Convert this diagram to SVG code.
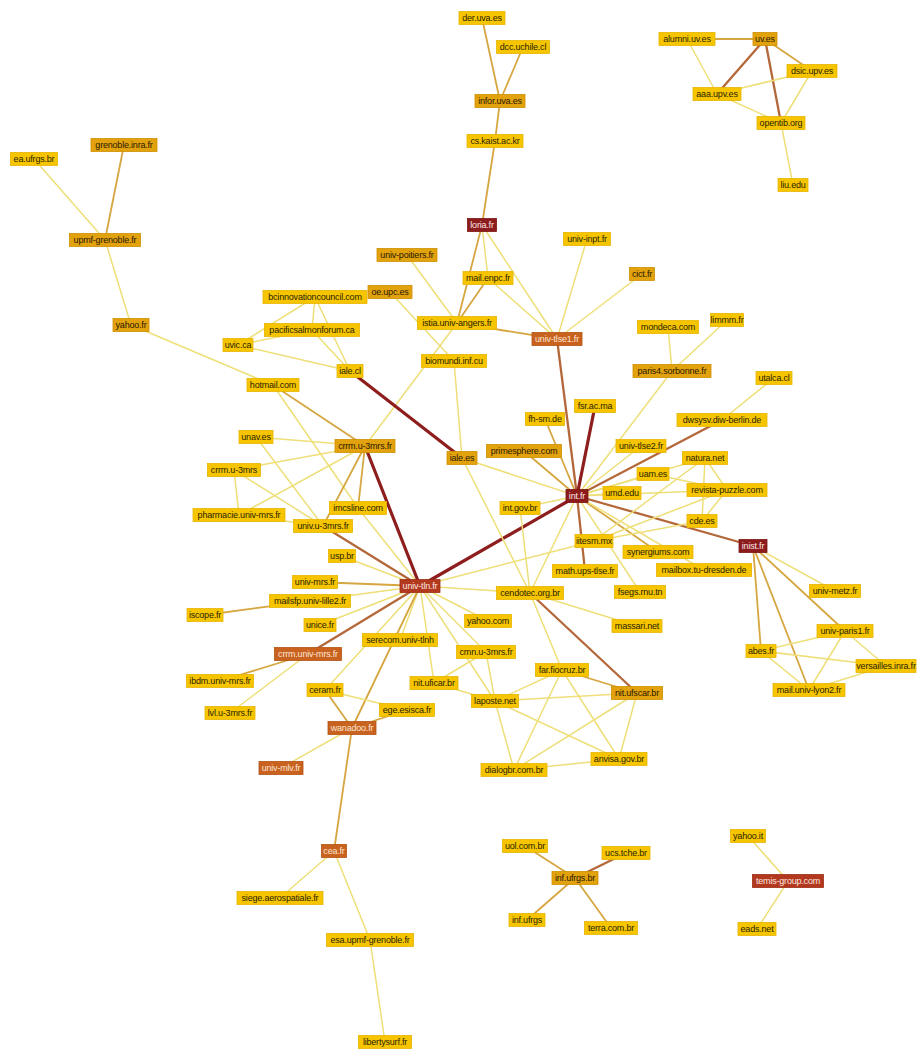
<svg xmlns="http://www.w3.org/2000/svg" width="924" height="1052" viewBox="0 0 924 1052">
<style>
.bg{fill:#fff}
.e line{stroke-linecap:round;fill:none}
.Y{stroke:#eedf78;stroke-width:1.5}
.O{stroke:#d6a640;stroke-width:1.8}
.B{stroke:#b4683a;stroke-width:2.3}
.R{stroke:#8e1e1e;stroke-width:3.2}
.node rect{stroke-width:0.8}
.node text{font-family:"Liberation Sans",Arial,sans-serif;font-size:9px;text-anchor:middle;letter-spacing:-0.2px}
.y rect{fill:#f6c500;stroke:#e6b400}
.y text{fill:#2a1e00}
.o rect{fill:#e2a20e;stroke:#cf9000}
.o text{fill:#2a1800}
.b rect{fill:#c8621e;stroke:#b35414}
.b text{fill:#fbe6d6}
.r rect{fill:#8c1c1c;stroke:#7a1414}
.r text{fill:#fbe6e6}
.t rect{fill:#b2391e;stroke:#9c2e16}
.t text{fill:#fbe6e0}
</style>
<rect class="bg" x="0" y="0" width="924" height="1052"/>
<g id="connectors" class="e">
<line class="Y" x1="34" y1="159" x2="105" y2="240"/>
<line class="O" x1="124" y1="145" x2="105" y2="240"/>
<line class="Y" x1="105" y1="240" x2="131" y2="325"/>
<line class="Y" x1="131" y1="325" x2="273" y2="385"/>
<line class="O" x1="482" y1="18" x2="500" y2="101"/>
<line class="O" x1="523" y1="47" x2="500" y2="101"/>
<line class="O" x1="500" y1="101" x2="495" y2="141"/>
<line class="O" x1="495" y1="141" x2="482" y2="225"/>
<line class="O" x1="687" y1="39" x2="765" y2="39"/>
<line class="Y" x1="687" y1="39" x2="717" y2="94"/>
<line class="B" x1="765" y1="39" x2="717" y2="94"/>
<line class="B" x1="765" y1="39" x2="781" y2="123"/>
<line class="O" x1="765" y1="39" x2="812" y2="71"/>
<line class="Y" x1="717" y1="94" x2="812" y2="71"/>
<line class="Y" x1="717" y1="94" x2="781" y2="123"/>
<line class="Y" x1="812" y1="71" x2="781" y2="123"/>
<line class="Y" x1="781" y1="123" x2="793" y2="185"/>
<line class="Y" x1="482" y1="225" x2="488" y2="278"/>
<line class="O" x1="482" y1="225" x2="457" y2="323"/>
<line class="Y" x1="482" y1="225" x2="557" y2="339"/>
<line class="O" x1="488" y1="278" x2="457" y2="323"/>
<line class="Y" x1="488" y1="278" x2="557" y2="339"/>
<line class="Y" x1="407" y1="255" x2="457" y2="323"/>
<line class="O" x1="457" y1="323" x2="557" y2="339"/>
<line class="Y" x1="457" y1="323" x2="365" y2="446"/>
<line class="Y" x1="390" y1="292" x2="454" y2="361"/>
<line class="Y" x1="587" y1="239" x2="557" y2="339"/>
<line class="Y" x1="642" y1="274" x2="557" y2="339"/>
<line class="B" x1="557" y1="339" x2="577" y2="496"/>
<line class="Y" x1="315" y1="297" x2="238" y2="345"/>
<line class="Y" x1="315" y1="297" x2="312" y2="330"/>
<line class="Y" x1="315" y1="297" x2="350" y2="371"/>
<line class="Y" x1="312" y1="330" x2="238" y2="345"/>
<line class="Y" x1="312" y1="330" x2="350" y2="371"/>
<line class="Y" x1="238" y1="345" x2="350" y2="371"/>
<line class="R" x1="350" y1="371" x2="462" y2="458"/>
<line class="Y" x1="454" y1="361" x2="462" y2="458"/>
<line class="Y" x1="668" y1="327" x2="672" y2="371"/>
<line class="Y" x1="727" y1="320" x2="672" y2="371"/>
<line class="Y" x1="672" y1="371" x2="577" y2="496"/>
<line class="Y" x1="774" y1="378" x2="722" y2="420"/>
<line class="B" x1="722" y1="420" x2="577" y2="496"/>
<line class="R" x1="595" y1="406" x2="577" y2="496"/>
<line class="O" x1="545" y1="419" x2="577" y2="496"/>
<line class="O" x1="524" y1="451" x2="577" y2="496"/>
<line class="Y" x1="462" y1="458" x2="577" y2="496"/>
<line class="Y" x1="641" y1="446" x2="577" y2="496"/>
<line class="Y" x1="653" y1="474" x2="577" y2="496"/>
<line class="Y" x1="622" y1="493" x2="577" y2="496"/>
<line class="Y" x1="705" y1="458" x2="577" y2="496"/>
<line class="Y" x1="520" y1="508" x2="577" y2="496"/>
<line class="R" x1="577" y1="496" x2="420" y2="586"/>
<line class="B" x1="577" y1="496" x2="585" y2="571"/>
<line class="Y" x1="577" y1="496" x2="530" y2="593"/>
<line class="Y" x1="577" y1="496" x2="640" y2="592"/>
<line class="O" x1="577" y1="496" x2="658" y2="552"/>
<line class="Y" x1="577" y1="496" x2="704" y2="570"/>
<line class="B" x1="577" y1="496" x2="753" y2="546"/>
<line class="Y" x1="577" y1="496" x2="727" y2="490"/>
<line class="Y" x1="705" y1="458" x2="727" y2="490"/>
<line class="Y" x1="705" y1="458" x2="702" y2="521"/>
<line class="Y" x1="727" y1="490" x2="702" y2="521"/>
<line class="Y" x1="653" y1="474" x2="727" y2="490"/>
<line class="Y" x1="594" y1="541" x2="705" y2="458"/>
<line class="Y" x1="594" y1="541" x2="702" y2="521"/>
<line class="Y" x1="594" y1="541" x2="727" y2="490"/>
<line class="Y" x1="420" y1="586" x2="594" y2="541"/>
<line class="Y" x1="753" y1="546" x2="835" y2="591"/>
<line class="O" x1="753" y1="546" x2="845" y2="631"/>
<line class="O" x1="753" y1="546" x2="761" y2="651"/>
<line class="O" x1="753" y1="546" x2="809" y2="690"/>
<line class="Y" x1="761" y1="651" x2="845" y2="631"/>
<line class="Y" x1="761" y1="651" x2="886" y2="666"/>
<line class="Y" x1="761" y1="651" x2="809" y2="690"/>
<line class="Y" x1="845" y1="631" x2="809" y2="690"/>
<line class="Y" x1="845" y1="631" x2="886" y2="666"/>
<line class="Y" x1="886" y1="666" x2="809" y2="690"/>
<line class="O" x1="273" y1="385" x2="365" y2="446"/>
<line class="Y" x1="273" y1="385" x2="358" y2="508"/>
<line class="Y" x1="256" y1="437" x2="365" y2="446"/>
<line class="Y" x1="256" y1="437" x2="323" y2="526"/>
<line class="Y" x1="234" y1="470" x2="365" y2="446"/>
<line class="Y" x1="234" y1="470" x2="239" y2="515"/>
<line class="Y" x1="234" y1="470" x2="323" y2="526"/>
<line class="Y" x1="239" y1="515" x2="365" y2="446"/>
<line class="Y" x1="239" y1="515" x2="323" y2="526"/>
<line class="O" x1="365" y1="446" x2="323" y2="526"/>
<line class="O" x1="365" y1="446" x2="358" y2="508"/>
<line class="R" x1="365" y1="446" x2="420" y2="586"/>
<line class="B" x1="323" y1="526" x2="420" y2="586"/>
<line class="Y" x1="358" y1="508" x2="420" y2="586"/>
<line class="Y" x1="342" y1="556" x2="420" y2="586"/>
<line class="O" x1="315" y1="582" x2="420" y2="586"/>
<line class="Y" x1="310" y1="601" x2="420" y2="586"/>
<line class="O" x1="205" y1="615" x2="310" y2="601"/>
<line class="Y" x1="320" y1="625" x2="420" y2="586"/>
<line class="B" x1="308" y1="654" x2="420" y2="586"/>
<line class="O" x1="308" y1="654" x2="220" y2="681"/>
<line class="Y" x1="308" y1="654" x2="230" y2="713"/>
<line class="Y" x1="400" y1="640" x2="420" y2="586"/>
<line class="Y" x1="420" y1="586" x2="325" y2="690"/>
<line class="O" x1="420" y1="586" x2="352" y2="728"/>
<line class="Y" x1="420" y1="586" x2="434" y2="683"/>
<line class="Y" x1="420" y1="586" x2="495" y2="701"/>
<line class="Y" x1="420" y1="586" x2="486" y2="652"/>
<line class="Y" x1="420" y1="586" x2="488" y2="621"/>
<line class="Y" x1="420" y1="586" x2="530" y2="593"/>
<line class="O" x1="325" y1="690" x2="352" y2="728"/>
<line class="Y" x1="325" y1="690" x2="407" y2="710"/>
<line class="O" x1="407" y1="710" x2="352" y2="728"/>
<line class="Y" x1="352" y1="728" x2="281" y2="768"/>
<line class="O" x1="352" y1="728" x2="334" y2="851"/>
<line class="Y" x1="434" y1="683" x2="486" y2="652"/>
<line class="Y" x1="434" y1="683" x2="495" y2="701"/>
<line class="Y" x1="486" y1="652" x2="495" y2="701"/>
<line class="Y" x1="462" y1="458" x2="530" y2="593"/>
<line class="Y" x1="520" y1="508" x2="530" y2="593"/>
<line class="Y" x1="530" y1="593" x2="637" y2="626"/>
<line class="B" x1="530" y1="593" x2="637" y2="693"/>
<line class="Y" x1="530" y1="593" x2="562" y2="670"/>
<line class="O" x1="562" y1="670" x2="637" y2="693"/>
<line class="Y" x1="562" y1="670" x2="495" y2="701"/>
<line class="Y" x1="562" y1="670" x2="514" y2="770"/>
<line class="Y" x1="562" y1="670" x2="619" y2="759"/>
<line class="Y" x1="495" y1="701" x2="637" y2="693"/>
<line class="Y" x1="495" y1="701" x2="514" y2="770"/>
<line class="Y" x1="495" y1="701" x2="619" y2="759"/>
<line class="Y" x1="637" y1="693" x2="514" y2="770"/>
<line class="Y" x1="637" y1="693" x2="619" y2="759"/>
<line class="Y" x1="514" y1="770" x2="619" y2="759"/>
<line class="Y" x1="334" y1="851" x2="280" y2="898"/>
<line class="Y" x1="334" y1="851" x2="370" y2="940"/>
<line class="Y" x1="370" y1="940" x2="385" y2="1042"/>
<line class="O" x1="525" y1="846" x2="575" y2="878"/>
<line class="B" x1="626" y1="853" x2="575" y2="878"/>
<line class="O" x1="575" y1="878" x2="527" y2="920"/>
<line class="O" x1="575" y1="878" x2="611" y2="928"/>
<line class="Y" x1="748" y1="836" x2="788" y2="881"/>
<line class="Y" x1="788" y1="881" x2="757" y2="929"/>
</g>
<g id="n-der-uva-es" class="node y"><rect x="459" y="11.5" width="46" height="13"/><text x="482" y="21">der.uva.es</text></g>
<g id="n-dcc-uchile-cl" class="node y"><rect x="496.5" y="40.5" width="53" height="13"/><text x="523" y="50">dcc.uchile.cl</text></g>
<g id="n-infor-uva-es" class="node o"><rect x="475" y="94.5" width="50" height="13"/><text x="500" y="104">infor.uva.es</text></g>
<g id="n-cs-kaist-ac-kr" class="node y"><rect x="467" y="134.5" width="56" height="13"/><text x="495" y="144">cs.kaist.ac.kr</text></g>
<g id="n-alumni-uv-es" class="node y"><rect x="659" y="32.5" width="56" height="13"/><text x="687" y="42">alumni.uv.es</text></g>
<g id="n-uv-es" class="node o"><rect x="753" y="32.5" width="24" height="13"/><text x="765" y="42">uv.es</text></g>
<g id="n-dsic-upv-es" class="node y"><rect x="787" y="64.5" width="50" height="13"/><text x="812" y="74">dsic.upv.es</text></g>
<g id="n-aaa-upv-es" class="node y"><rect x="693" y="87.5" width="48" height="13"/><text x="717" y="97">aaa.upv.es</text></g>
<g id="n-opentib-org" class="node y"><rect x="757" y="116.5" width="48" height="13"/><text x="781" y="126">opentib.org</text></g>
<g id="n-liu-edu" class="node y"><rect x="778" y="178.5" width="30" height="13"/><text x="793" y="188">liu.edu</text></g>
<g id="n-ea-ufrgs-br" class="node y"><rect x="10.5" y="152.5" width="47" height="13"/><text x="34" y="162">ea.ufrgs.br</text></g>
<g id="n-grenoble-inra-fr" class="node o"><rect x="91" y="138.5" width="66" height="13"/><text x="124" y="148">grenoble.inra.fr</text></g>
<g id="n-upmf-grenoble-fr" class="node o"><rect x="69.5" y="233.5" width="71" height="13"/><text x="105" y="243">upmf-grenoble.fr</text></g>
<g id="n-yahoo-fr" class="node o"><rect x="113" y="318.5" width="36" height="13"/><text x="131" y="328">yahoo.fr</text></g>
<g id="n-loria-fr" class="node r"><rect x="467.5" y="218.5" width="29" height="13"/><text x="482" y="228">loria.fr</text></g>
<g id="n-univ-inpt-fr" class="node y"><rect x="563.5" y="232.5" width="47" height="13"/><text x="587" y="242">univ-inpt.fr</text></g>
<g id="n-cict-fr" class="node o"><rect x="629.5" y="267.5" width="25" height="13"/><text x="642" y="277">cict.fr</text></g>
<g id="n-univ-poitiers-fr" class="node o"><rect x="377" y="248.5" width="60" height="13"/><text x="407" y="258">univ-poitiers.fr</text></g>
<g id="n-mail-enpc-fr" class="node y"><rect x="463" y="271.5" width="50" height="13"/><text x="488" y="281">mail.enpc.fr</text></g>
<g id="n-oe-upc-es" class="node o"><rect x="368" y="285.5" width="44" height="13"/><text x="390" y="295">oe.upc.es</text></g>
<g id="n-bcinnovationcouncil-com" class="node y"><rect x="263" y="290.5" width="104" height="13"/><text x="315" y="300">bcinnovationcouncil.com</text></g>
<g id="n-pacificsalmonforum-ca" class="node y"><rect x="264.5" y="323.5" width="95" height="13"/><text x="312" y="333">pacificsalmonforum.ca</text></g>
<g id="n-istia-univ-angers-fr" class="node y"><rect x="417.5" y="316.5" width="79" height="13"/><text x="457" y="326">istia.univ-angers.fr</text></g>
<g id="n-univ-tlse1-fr" class="node b"><rect x="532" y="332.5" width="50" height="13"/><text x="557" y="342">univ-tlse1.fr</text></g>
<g id="n-uvic-ca" class="node y"><rect x="223" y="338.5" width="30" height="13"/><text x="238" y="348">uvic.ca</text></g>
<g id="n-mondeca-com" class="node y"><rect x="637.5" y="320.5" width="61" height="13"/><text x="668" y="330">mondeca.com</text></g>
<g id="n-limmm-fr" class="node y"><rect x="710.5" y="313.5" width="33" height="13"/><text x="727" y="323">limmm.fr</text></g>
<g id="n-paris4-sorbonne-fr" class="node o"><rect x="633" y="364.5" width="78" height="13"/><text x="672" y="374">paris4.sorbonne.fr</text></g>
<g id="n-iale-cl" class="node y"><rect x="337" y="364.5" width="26" height="13"/><text x="350" y="374">iale.cl</text></g>
<g id="n-biomundi-inf-cu" class="node y"><rect x="421.5" y="354.5" width="65" height="13"/><text x="454" y="364">biomundi.inf.cu</text></g>
<g id="n-hotmail-com" class="node y"><rect x="247" y="378.5" width="52" height="13"/><text x="273" y="388">hotmail.com</text></g>
<g id="n-utalca-cl" class="node y"><rect x="756" y="371.5" width="36" height="13"/><text x="774" y="381">utalca.cl</text></g>
<g id="n-dwsysv-diw-berlin-de" class="node y"><rect x="677" y="413.5" width="90" height="13"/><text x="722" y="423">dwsysv.diw-berlin.de</text></g>
<g id="n-fsr-ac-ma" class="node y"><rect x="574.5" y="399.5" width="41" height="13"/><text x="595" y="409">fsr.ac.ma</text></g>
<g id="n-fh-sm-de" class="node y"><rect x="525.5" y="412.5" width="39" height="13"/><text x="545" y="422">fh-sm.de</text></g>
<g id="n-unav-es" class="node y"><rect x="239" y="430.5" width="34" height="13"/><text x="256" y="440">unav.es</text></g>
<g id="n-crrm-u-3mrs-fr" class="node o"><rect x="335" y="439.5" width="60" height="13"/><text x="365" y="449">crrm.u-3mrs.fr</text></g>
<g id="n-univ-tlse2-fr" class="node y"><rect x="616" y="439.5" width="50" height="13"/><text x="641" y="449">univ-tlse2.fr</text></g>
<g id="n-primesphere-com" class="node o"><rect x="486.5" y="444.5" width="75" height="13"/><text x="524" y="454">primesphere.com</text></g>
<g id="n-iale-es" class="node o"><rect x="447" y="451.5" width="30" height="13"/><text x="462" y="461">iale.es</text></g>
<g id="n-natura-net" class="node y"><rect x="682.5" y="451.5" width="45" height="13"/><text x="705" y="461">natura.net</text></g>
<g id="n-crrm-u-3mrs" class="node y"><rect x="207.5" y="463.5" width="53" height="13"/><text x="234" y="473">crrm.u-3mrs</text></g>
<g id="n-uam-es" class="node y"><rect x="637" y="467.5" width="32" height="13"/><text x="653" y="477">uam.es</text></g>
<g id="n-revista-puzzle-com" class="node y"><rect x="687" y="483.5" width="80" height="13"/><text x="727" y="493">revista-puzzle.com</text></g>
<g id="n-umd-edu" class="node y"><rect x="603" y="486.5" width="38" height="13"/><text x="622" y="496">umd.edu</text></g>
<g id="n-int-fr" class="node r"><rect x="566" y="489.5" width="22" height="13"/><text x="577" y="499">int.fr</text></g>
<g id="n-imcsline-com" class="node y"><rect x="329.5" y="501.5" width="57" height="13"/><text x="358" y="511">imcsline.com</text></g>
<g id="n-int-gov-br" class="node y"><rect x="500" y="501.5" width="40" height="13"/><text x="520" y="511">int.gov.br</text></g>
<g id="n-pharmacie-univ-mrs-fr" class="node y"><rect x="193" y="508.5" width="92" height="13"/><text x="239" y="518">pharmacie.univ-mrs.fr</text></g>
<g id="n-cde-es" class="node y"><rect x="687" y="514.5" width="30" height="13"/><text x="702" y="524">cde.es</text></g>
<g id="n-univ-u-3mrs-fr" class="node y"><rect x="293.5" y="519.5" width="59" height="13"/><text x="323" y="529">univ.u-3mrs.fr</text></g>
<g id="n-iitesm-mx" class="node y"><rect x="575" y="534.5" width="38" height="13"/><text x="594" y="544">iitesm.mx</text></g>
<g id="n-inist-fr" class="node r"><rect x="739" y="539.5" width="28" height="13"/><text x="753" y="549">inist.fr</text></g>
<g id="n-synergiums-com" class="node y"><rect x="623" y="545.5" width="70" height="13"/><text x="658" y="555">synergiums.com</text></g>
<g id="n-usp-br" class="node y"><rect x="328.5" y="549.5" width="27" height="13"/><text x="342" y="559">usp.br</text></g>
<g id="n-math-ups-tlse-fr" class="node y"><rect x="552.5" y="564.5" width="65" height="13"/><text x="585" y="574">math.ups-tlse.fr</text></g>
<g id="n-mailbox-tu-dresden-de" class="node y"><rect x="656.5" y="563.5" width="95" height="13"/><text x="704" y="573">mailbox.tu-dresden.de</text></g>
<g id="n-univ-mrs-fr" class="node y"><rect x="292.5" y="575.5" width="45" height="13"/><text x="315" y="585">univ-mrs.fr</text></g>
<g id="n-univ-tln-fr" class="node t"><rect x="400" y="579.5" width="40" height="13"/><text x="420" y="589">univ-tln.fr</text></g>
<g id="n-cendotec-org-br" class="node y"><rect x="496.5" y="586.5" width="67" height="13"/><text x="530" y="596">cendotec.org.br</text></g>
<g id="n-fsegs-rnu-tn" class="node y"><rect x="614.5" y="585.5" width="51" height="13"/><text x="640" y="595">fsegs.rnu.tn</text></g>
<g id="n-univ-metz-fr" class="node y"><rect x="809.5" y="584.5" width="51" height="13"/><text x="835" y="594">univ-metz.fr</text></g>
<g id="n-mailsfp-univ-lille2-fr" class="node y"><rect x="269.5" y="594.5" width="81" height="13"/><text x="310" y="604">mailsfp.univ-lille2.fr</text></g>
<g id="n-iscope-fr" class="node y"><rect x="187" y="608.5" width="36" height="13"/><text x="205" y="618">iscope.fr</text></g>
<g id="n-yahoo-com" class="node y"><rect x="464.5" y="614.5" width="47" height="13"/><text x="488" y="624">yahoo.com</text></g>
<g id="n-unice-fr" class="node y"><rect x="304" y="618.5" width="32" height="13"/><text x="320" y="628">unice.fr</text></g>
<g id="n-massari-net" class="node y"><rect x="612" y="619.5" width="50" height="13"/><text x="637" y="629">massari.net</text></g>
<g id="n-univ-paris1-fr" class="node y"><rect x="817" y="624.5" width="56" height="13"/><text x="845" y="634">univ-paris1.fr</text></g>
<g id="n-serecom-univ-tlnh" class="node y"><rect x="362.5" y="633.5" width="75" height="13"/><text x="400" y="643">serecom.univ-tlnh</text></g>
<g id="n-cmn-u-3mrs-fr" class="node y"><rect x="456.5" y="645.5" width="59" height="13"/><text x="486" y="655">cmn.u-3mrs.fr</text></g>
<g id="n-abes-fr" class="node y"><rect x="746" y="644.5" width="30" height="13"/><text x="761" y="654">abes.fr</text></g>
<g id="n-crrm-univ-mrs-fr" class="node b"><rect x="274.5" y="647.5" width="67" height="13"/><text x="308" y="657">crrm.univ-mrs.fr</text></g>
<g id="n-versailles-inra-fr" class="node y"><rect x="856" y="659.5" width="60" height="13"/><text x="886" y="669">versailles.inra.fr</text></g>
<g id="n-far-fiocruz-br" class="node y"><rect x="535.5" y="663.5" width="53" height="13"/><text x="562" y="673">far.fiocruz.br</text></g>
<g id="n-ibdm-univ-mrs-fr" class="node y"><rect x="186.5" y="674.5" width="67" height="13"/><text x="220" y="684">ibdm.univ-mrs.fr</text></g>
<g id="n-nit-uficar-br" class="node y"><rect x="410" y="676.5" width="48" height="13"/><text x="434" y="686">nit.uficar.br</text></g>
<g id="n-mail-univ-lyon2-fr" class="node y"><rect x="773" y="683.5" width="72" height="13"/><text x="809" y="693">mail.univ-lyon2.fr</text></g>
<g id="n-ceram-fr" class="node y"><rect x="307" y="683.5" width="36" height="13"/><text x="325" y="693">ceram.fr</text></g>
<g id="n-nit-ufscar-br" class="node o"><rect x="611.5" y="686.5" width="51" height="13"/><text x="637" y="696">nit.ufscar.br</text></g>
<g id="n-laposte-net" class="node y"><rect x="471.5" y="694.5" width="47" height="13"/><text x="495" y="704">laposte.net</text></g>
<g id="n-ege-esisca-fr" class="node y"><rect x="379.5" y="703.5" width="55" height="13"/><text x="407" y="713">ege.esisca.fr</text></g>
<g id="n-lvl-u-3mrs-fr" class="node y"><rect x="205" y="706.5" width="50" height="13"/><text x="230" y="716">lvl.u-3mrs.fr</text></g>
<g id="n-wanadoo-fr" class="node b"><rect x="328" y="721.5" width="48" height="13"/><text x="352" y="731">wanadoo.fr</text></g>
<g id="n-anvisa-gov-br" class="node y"><rect x="591" y="752.5" width="56" height="13"/><text x="619" y="762">anvisa.gov.br</text></g>
<g id="n-univ-mlv-fr" class="node b"><rect x="259" y="761.5" width="44" height="13"/><text x="281" y="771">univ-mlv.fr</text></g>
<g id="n-dialogbr-com-br" class="node y"><rect x="481" y="763.5" width="66" height="13"/><text x="514" y="773">dialogbr.com.br</text></g>
<g id="n-yahoo-it" class="node y"><rect x="730.5" y="829.5" width="35" height="13"/><text x="748" y="839">yahoo.it</text></g>
<g id="n-uol-com-br" class="node y"><rect x="502.5" y="839.5" width="45" height="13"/><text x="525" y="849">uol.com.br</text></g>
<g id="n-cea-fr" class="node b"><rect x="321.5" y="844.5" width="25" height="13"/><text x="334" y="854">cea.fr</text></g>
<g id="n-ucs-tche-br" class="node y"><rect x="602" y="846.5" width="48" height="13"/><text x="626" y="856">ucs.tche.br</text></g>
<g id="n-inf-ufrgs-br" class="node o"><rect x="552" y="871.5" width="46" height="13"/><text x="575" y="881">inf.ufrgs.br</text></g>
<g id="n-temis-group-com" class="node t"><rect x="752.5" y="874.5" width="71" height="13"/><text x="788" y="884">temis-group.com</text></g>
<g id="n-siege-aerospatiale-fr" class="node y"><rect x="237" y="891.5" width="86" height="13"/><text x="280" y="901">siege.aerospatiale.fr</text></g>
<g id="n-inf-ufrgs" class="node y"><rect x="509" y="913.5" width="36" height="13"/><text x="527" y="923">inf.ufrgs</text></g>
<g id="n-terra-com-br" class="node y"><rect x="584.5" y="921.5" width="53" height="13"/><text x="611" y="931">terra.com.br</text></g>
<g id="n-eads-net" class="node y"><rect x="738" y="922.5" width="38" height="13"/><text x="757" y="932">eads.net</text></g>
<g id="n-esa-upmf-grenoble-fr" class="node y"><rect x="326.5" y="933.5" width="87" height="13"/><text x="370" y="943">esa.upmf-grenoble.fr</text></g>
<g id="n-libertysurf-fr" class="node y"><rect x="358.5" y="1035.5" width="53" height="13"/><text x="385" y="1045">libertysurf.fr</text></g>
</svg>
